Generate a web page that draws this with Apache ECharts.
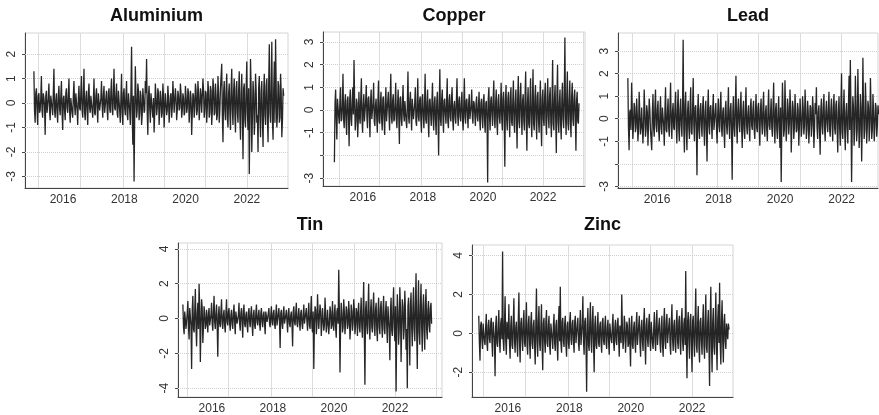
<!DOCTYPE html>
<html>
<head>
<meta charset="utf-8">
<script src="https://cdn.jsdelivr.net/npm/echarts@6/dist/echarts.min.js"></script>
<style>
  html, body { margin: 0; padding: 0; background: #fff; }
  #main { width: 879px; height: 415px; }
</style>
</head>
<body>
<div id="main"></div>
<script>
var chartDom = document.getElementById('main');
var myChart = echarts.init(chartDom);

var names = ['Aluminium', 'Copper', 'Lead', 'Tin', 'Zinc'];
var yearLabels = [2016, 2018, 2020, 2022];
var gridYears = [2015.2, 2016.55, 2017.95, 2019.3, 2020.65, 2022.0, 2023.35];
var startYear = 2015.05;
var endYear = 2023.2;

var aluminium = [
  1.3, -0.8, 0.6, -0.9, 0.4, -0.3, 1.1, -0.6, 0.2, -1.3, 0.5, -0.4, 0.8, -0.7, 0.3, -0.5, 1.4, -0.6, 0.4, -0.8,
  0.7, -0.5, 0.9, -1.1, 0.3, -0.7, 0.6, -0.4, 1.0, -0.8, 0.2, -0.6, 0.9, -0.5, 0.4, -0.9, 0.7, -0.3, 1.1, -0.6,
  1.4, -0.7, 0.5, -0.9, 0.8, -0.4, 0.3, -0.6, 1.0, -0.5, 0.6, -0.8, 0.4, -0.3, 0.9, -0.6, 0.7, -0.4, 0.5, -0.7,
  0.6, -0.4, 1.0, -0.5, 1.4, -0.3, 0.8, -0.6, 0.5, -0.8, 1.2, -0.9, 0.6, -0.5, 0.9, -0.7, 0.4, -0.9, 2.3, -1.7,
  -3.2, 1.5, -0.6, 0.8, -0.7, 0.5, -0.9, 0.6, -0.4, 0.9, 1.8, -1.3, 0.7, -0.8, 0.4, -0.6, -1.2, 0.8, -0.5, 0.6,
  -0.9, 0.5, -0.6, 0.8, -1.0, 0.4, -0.5, 0.7, -0.8, 0.3, -0.6, 0.9, -0.4, 0.6, -0.7, 0.5, -0.3, 0.8, -0.6, 0.4,
  -0.5, 0.7, -0.4, 0.6, -0.8, 0.5, -1.3, 0.4, -0.6, 0.8, -0.5, 0.9, -0.7, 0.6, -0.4, 1.0, -0.6, 0.5, -0.8, 0.9,
  -0.6, 0.7, -0.9, 1.0, -0.5, 0.8, -0.7, 1.1, -0.8, 0.6, 1.6, -1.6, 0.9, -0.7, 1.2, -1.0, 0.8, -1.1, 1.4, -0.9,
  1.0, -1.2, 0.9, -0.8, 1.3, -1.5, 1.2, -2.3, 0.8, -1.0, 1.7, -1.1, -2.9, 1.8, -2.0, 0.9, -1.3, 1.2, -0.8, -2.0,
  1.1, -1.4, 0.9, -1.8, 1.2, -0.9, 1.0, -1.6, 2.4, -0.8, 2.5, -1.5, 1.7, 2.6, -1.0, 0.9, -0.8, 1.2, -1.4, 0.6
];
var copper = [
  -2.3, 0.9, -1.3, 0.5, -0.6, 1.0, -0.4, 1.6, -0.8, 0.7, -1.1, 0.6, -1.6, 0.9, -0.7, 1.0, 2.2, -0.9, 0.5, -1.2,
  0.8, -0.6, 1.4, -1.0, 0.7, -0.5, 1.1, -0.8, 0.6, -1.2, 0.9, -0.4, 1.2, -0.7, 0.5, -1.0, 1.3, -0.6, 0.8, -0.9,
  0.6, -1.1, 1.0, -0.5, 0.8, -0.9, 1.6, -0.6, 0.7, -0.4, 1.2, -0.8, 0.9, -1.5, 0.6, -0.7, 1.1, -0.5, 0.4, -0.8,
  1.7, -0.6, 0.8, -0.9, 0.5, -0.4, 1.0, -0.7, 1.4, -0.5, 0.6, -1.0, 0.7, -0.8, 1.6, -0.6, 0.9, -1.2, 0.5, -0.7,
  1.2, -0.9, 0.6, -1.1, 0.8, -2.0, 1.8, -0.7, 0.9, -1.0, 0.5, -0.6, 1.4, -0.8, 0.7, -0.5, 1.0, -0.9, 0.4, -0.6,
  1.4, -0.7, 0.6, -0.5, 0.8, -0.9, 1.4, -0.6, 0.5, -0.8, 0.7, -0.4, 0.9, -0.6, 0.3, -0.7, 0.6, -0.5, 0.8, -0.9,
  0.5, -0.8, 0.7, -1.0, 0.4, -3.2, 1.0, -0.9, 0.6, -0.7, 1.3, -0.8, 0.9, -1.1, 0.7, -0.6, 1.2, -0.9, 0.8, -2.5,
  1.1, -0.9, 0.8, -1.2, 1.0, -0.7, 1.3, -1.0, 0.9, -1.7, 1.5, -0.8, 1.2, -1.1, 0.7, -0.9, 1.7, -1.8, 1.0, -0.8,
  1.4, -1.2, 1.8, -0.9, 1.1, -1.3, 0.8, -1.0, 1.3, -1.6, 0.9, -0.7, 1.2, -1.1, 1.4, -0.8, 1.0, -1.2, 2.2, -0.9,
  1.1, -1.9, 2.0, -1.0, 0.9, -1.3, 1.2, -0.8, 3.2, -1.1, 1.7, -0.9, 1.3, -1.2, 1.2, -0.7, 0.9, -1.8, 0.8, -0.6
];
var lead = [
  1.8, -1.4, 0.4, 1.6, -0.9, 0.7, -0.6, 0.9, -1.0, 1.2, -0.7, 0.5, -1.1, 1.3, -0.8, 0.6, -1.2, 0.9, -0.5, -1.4,
  1.1, -0.8, 1.3, -0.6, 0.8, -1.0, 1.0, -0.7, 0.5, -1.2, 1.4, -0.6, 0.9, -0.8, 1.6, -0.9, 0.7, -0.5, 1.2, -1.1,
  1.3, -1.0, 0.9, -0.8, 3.5, -1.5, 1.2, -1.4, 0.8, -0.9, 1.4, -0.7, 1.8, -1.0, 0.6, -2.5, 1.1, -0.9, 0.7, -0.8,
  1.0, -1.2, 0.8, -1.9, 1.3, -0.7, 0.6, -0.9, 1.1, -0.5, 0.7, -1.1, 0.9, -0.6, 1.2, -0.8, 0.5, -1.3, 0.8, -0.7,
  1.4, -0.9, 0.7, -2.7, 1.0, -0.8, 1.9, -1.1, 0.9, -0.6, 1.2, -1.3, 0.8, -0.9, 1.4, -0.7, 0.6, -1.0, 0.9, -0.5,
  0.8, -0.9, 1.1, -0.6, 0.7, -1.2, 0.9, -0.7, 1.2, -0.8, 0.6, -1.0, 1.3, -0.5, 0.9, -0.8, 1.6, -1.1, 0.7, -0.9,
  1.0, -1.3, -2.8, 1.6, -0.8, 1.7, -1.0, 0.9, -0.7, 1.3, -1.5, 0.8, -0.9, 1.1, -0.6, 0.7, -1.2, 0.9, -0.8, 1.0,
  -0.7, 1.3, -0.9, 0.8, -1.1, 0.6, -0.8, 1.0, -1.3, 0.7, 1.4, -0.9, 0.6, -1.6, 0.9, -0.7, 1.1, -1.0, 0.8, -0.6,
  1.2, -0.8, 0.9, -1.0, 1.1, -0.7, 0.8, -1.5, 1.0, -1.2, 2.0, -0.9, 1.3, -1.4, 0.7, -1.1, 1.9, 2.6, -2.8, 1.0,
  -1.2, 1.9, -1.0, 2.2, -1.3, 1.1, -1.9, 2.7, -0.9, 1.6, -1.1, 0.8, -1.0, 1.8, -0.9, 1.1, -1.0, 0.7, -0.8, 0.6
];
var tin = [
  0.8, -0.9, 0.5, -0.7, 1.0, -1.2, 0.6, -2.9, 1.3, -0.8, 1.7, -1.6, 0.9, 2.0, -2.5, 1.1, -1.4, 0.7, -0.6, 0.5,
  -0.8, 0.6, -0.5, 0.9, -0.7, 1.3, -0.6, 0.8, -2.2, 0.7, -0.5, 1.1, -0.6, 0.5, -0.8, 1.1, -0.4, 0.6, -0.7, 0.5,
  -0.6, 0.8, -0.9, 0.5, -0.4, 0.9, -0.7, 0.6, -1.1, 0.8, -0.5, 0.4, -0.8, 0.6, -0.5, 0.7, -1.0, 0.5, -0.6, 0.8,
  -0.4, 0.5, -0.7, 0.6, -0.5, 0.4, -0.9, 0.5, -0.3, 0.6, -0.5, 0.7, -0.4, 0.5, -0.6, 0.8, -0.5, 0.6, -1.7, 0.5,
  -0.6, 0.7, -0.4, 0.5, -0.8, 0.6, -0.5, 0.4, -1.6, 0.7, -0.4, 0.9, -0.5, 0.6, -0.7, 0.5, -0.6, 0.8, -0.4, 0.6,
  -0.7, 0.9, -0.6, 1.3, -0.8, -2.9, 0.7, -0.9, 1.4, -0.6, 0.8, -1.0, 0.6, -0.7, 1.2, -0.8, 0.5, -0.9, 0.7, -0.6,
  1.0, -0.7, 0.8, -1.1, 0.6, 2.8, -3.1, 0.9, -0.8, 1.1, -0.9, 0.7, -0.6, 1.0, -1.2, 0.8, -0.7, 1.1, -0.9, 0.6,
  -1.0, 0.9, -0.8, 1.2, -1.1, 2.1, -3.8, 1.0, -0.9, 2.0, -1.2, 1.1, -0.8, 1.5, -1.0, 0.9, -1.3, 1.2, -0.9, 1.0,
  -1.1, 1.3, -0.9, 1.0, -1.4, 0.8, -2.4, 1.2, -1.0, 1.8, -1.3, -4.2, 1.4, -1.5, 1.8, -2.5, 1.1, -1.2, 1.6, -1.8,
  -4.0, 1.2, -2.7, 1.5, -1.6, 1.8, -1.3, 2.6, -2.9, 2.2, -1.5, 2.0, -1.9, 1.4, -1.8, 1.7, -1.2, 1.0, -0.8, 0.9
];
var zinc = [
  0.9, -1.4, 0.6, -0.8, 0.4, -0.6, 1.0, -0.9, 0.7, -0.5, 0.8, -1.2, 0.6, -2.2, 0.9, -0.7, 1.2, -1.0, 0.8, 4.2,
  -0.9, 1.9, -1.1, 0.7, 1.5, -1.3, 0.9, -0.8, 1.8, -1.0, 0.6, -1.2, 2.1, -1.5, 0.8, -0.9, 1.2, -0.7, 1.6, -1.1,
  0.9, -1.3, 1.1, -0.8, 0.7, -1.6, 2.3, -1.2, 1.4, -0.9, 1.5, -1.9, 0.8, -1.0, 1.2, -0.7, 0.9, -1.1, 0.6, -0.8,
  1.0, -0.9, 0.7, -1.4, 1.4, 2.4, -1.0, 0.8, -0.7, 0.9, -1.2, 0.6, -0.8, 1.1, -0.6, 0.7, -1.0, 0.9, -0.5, 0.8,
  -0.9, 1.2, -0.7, 1.9, -1.1, 0.8, -3.0, 1.3, -0.9, 1.6, -1.0, 1.4, -2.0, 0.9, -0.8, 1.1, -0.7, 0.6, -1.0, 0.8,
  -0.6, 0.9, -0.8, 0.7, -1.1, 0.6, -0.5, 1.0, -0.9, 0.7, -0.6, 0.8, -1.2, 0.5, 2.0, -0.8, 0.9, -1.0, 0.6, -0.7,
  0.8, -1.7, 0.9, -0.8, 0.6, -1.0, 1.1, -0.7, 0.9, -1.2, 0.7, -0.9, 1.3, -1.6, 0.8, -0.7, 1.0, -0.9, 0.6, -0.8,
  1.1, -0.9, 1.2, -0.7, 0.8, -1.0, 0.9, -1.2, 1.3, -0.8, 1.0, -0.6, 0.8, -1.1, 1.5, -0.9, 0.7, -1.0, 1.2, -0.8,
  0.9, -1.1, 1.3, -0.9, 0.8, 3.2, -2.3, 1.1, -1.3, 1.0, -2.0, 0.9, -1.2, 2.3, -1.0, 1.4, -1.5, 0.8, -1.1, 1.5,
  -1.3, 2.0, -1.0, 1.2, -2.7, 2.4, -2.0, 1.3, -1.1, 2.1, -1.9, 1.5, 2.6, -1.6, 1.7, -1.5, 1.0, -0.8, 0.6, 0.5
];
// ... and the smaller moves of the dense core, one between each pair above
var aluminiumCore = [
  -0.3, 0.4, -0.2, 0.3, -0.4, 0.2, -0.3, 0.4, -0.1, 0.3, -0.4, 0.2, -0.3, 0.3, -0.2, 0.4, -0.3, 0.1, -0.4, 0.3,
  -0.2, 0.3, -0.4, 0.2, -0.3, 0.4, -0.2, 0.3, -0.3, 0.2, -0.4, 0.3, -0.1, 0.4, -0.3, 0.2, -0.2, 0.4, -0.3, 0.3,
  -0.4, 0.2, -0.3, 0.4, -0.2, 0.3, -0.3, 0.1, -0.4, 0.3, -0.2, 0.4, -0.3, 0.2, -0.1, 0.3, -0.4, 0.2, -0.3, 0.4,
  -0.2, 0.5, -0.3, 0.4, -0.2, 0.3, -0.4, 0.5, -0.3, 0.2, -0.4, 0.4, -0.2, 0.3, -0.5, 0.4, -0.3, 0.5, -0.4, 0.3,
  -0.5, 0.4, -0.3, 0.5, -0.4, 0.3, -0.5, 0.2, -0.3, 0.4, -0.4, 0.3, -0.2, 0.4, -0.3, 0.2, -0.4, 0.3, -0.2, 0.4,
  -0.3, 0.2, -0.4, 0.3, -0.2, 0.4, -0.3, 0.2, -0.3, 0.4, -0.2, 0.3, -0.4, 0.2, -0.3, 0.3, -0.2, 0.4, -0.3, 0.2,
  -0.4, 0.3, -0.2, 0.4, -0.3, 0.2, -0.4, 0.3, -0.2, 0.5, -0.3, 0.4, -0.2, 0.3, -0.4, 0.5, -0.3, 0.4, -0.2, 0.5,
  -0.4, 0.5, -0.3, 0.6, -0.4, 0.3, -0.5, 0.4, -0.3, 0.6, -0.5, 0.4, -0.3, 0.5, -0.6, 0.4, -0.4, 0.6, -0.3, 0.5,
  -0.5, 0.6, -0.4, 0.5, -0.6, 0.4, -0.5, 0.6, -0.7, 0.5, -0.4, 0.6, -0.8, 0.5, -0.6, 0.4, -0.7, 0.5, -0.5, 0.6,
  -0.6, 0.5, -0.7, 0.4, -0.5, 0.7, -0.6, 0.8, -0.4, 0.6, -0.7, 0.5, -0.8, 0.6, -0.5, 0.7, -0.6, 0.4, -0.7, 0.3
];
var copperCore = [
  0.3, -0.4, 0.5, -0.3, 0.4, -0.5, 0.2, -0.4, 0.3, -0.5, 0.4, -0.3, 0.5, -0.4, 0.3, -0.2, 0.4, -0.5, 0.3, -0.4,
  -0.3, 0.5, -0.4, 0.2, -0.5, 0.4, -0.3, 0.5, -0.2, 0.4, -0.4, 0.3, -0.5, 0.2, -0.3, 0.4, -0.5, 0.3, -0.4, 0.5,
  -0.4, 0.3, -0.5, 0.4, -0.2, 0.5, -0.3, 0.4, -0.5, 0.3, -0.4, 0.2, -0.3, 0.5, -0.4, 0.3, -0.2, 0.4, -0.5, 0.3,
  -0.3, 0.4, -0.2, 0.5, -0.4, 0.3, -0.5, 0.2, -0.3, 0.4, -0.4, 0.5, -0.3, 0.2, -0.4, 0.3, -0.5, 0.4, -0.2, 0.3,
  -0.4, 0.3, -0.5, 0.4, -0.3, 0.2, -0.4, 0.5, -0.3, 0.4, -0.2, 0.3, -0.5, 0.4, -0.3, 0.5, -0.4, 0.2, -0.3, 0.4,
  -0.2, 0.4, -0.3, 0.3, -0.4, 0.2, -0.3, 0.4, -0.2, 0.3, -0.4, 0.2, -0.3, 0.4, -0.2, 0.3, -0.3, 0.2, -0.4, 0.3,
  -0.3, 0.4, -0.5, 0.3, -0.4, 0.5, -0.3, 0.4, -0.2, 0.5, -0.4, 0.3, -0.5, 0.4, -0.3, 0.2, -0.4, 0.5, -0.3, 0.4,
  -0.4, 0.5, -0.3, 0.6, -0.5, 0.4, -0.6, 0.3, -0.4, 0.5, -0.5, 0.6, -0.3, 0.4, -0.5, 0.6, -0.4, 0.3, -0.6, 0.5,
  -0.5, 0.4, -0.6, 0.5, -0.4, 0.6, -0.5, 0.3, -0.6, 0.5, -0.4, 0.6, -0.5, 0.4, -0.3, 0.6, -0.5, 0.4, -0.6, 0.5,
  -0.4, 0.6, -0.5, 0.3, -0.6, 0.5, -0.4, 0.6, -0.3, 0.5, -0.6, 0.4, -0.5, 0.6, -0.4, 0.5, -0.3, 0.4, -0.5, 0.3
];
var leadCore = [
  -0.4, 0.3, -0.5, 0.4, -0.3, 0.5, -0.4, 0.2, -0.5, 0.3, -0.4, 0.5, -0.3, 0.4, -0.5, 0.3, -0.2, 0.4, -0.5, 0.3,
  -0.4, 0.5, -0.3, 0.4, -0.5, 0.2, -0.4, 0.5, -0.3, 0.4, -0.5, 0.3, -0.4, 0.5, -0.2, 0.3, -0.4, 0.5, -0.3, 0.4,
  -0.5, 0.4, -0.3, 0.5, -0.4, 0.6, -0.5, 0.3, -0.4, 0.5, -0.6, 0.4, -0.3, 0.5, -0.4, 0.3, -0.5, 0.4, -0.3, 0.5,
  -0.4, 0.3, -0.5, 0.4, -0.3, 0.5, -0.2, 0.4, -0.5, 0.3, -0.4, 0.2, -0.3, 0.5, -0.4, 0.3, -0.5, 0.4, -0.3, 0.2,
  -0.3, 0.4, -0.5, 0.3, -0.4, 0.5, -0.3, 0.4, -0.2, 0.5, -0.4, 0.3, -0.5, 0.4, -0.3, 0.2, -0.4, 0.5, -0.3, 0.4,
  -0.5, 0.3, -0.4, 0.5, -0.3, 0.4, -0.2, 0.5, -0.4, 0.3, -0.5, 0.4, -0.3, 0.2, -0.4, 0.5, -0.3, 0.4, -0.5, 0.3,
  -0.4, 0.5, -0.3, 0.4, -0.5, 0.3, -0.4, 0.5, -0.2, 0.4, -0.3, 0.5, -0.4, 0.3, -0.5, 0.4, -0.3, 0.2, -0.4, 0.5,
  -0.3, 0.4, -0.5, 0.3, -0.4, 0.5, -0.3, 0.4, -0.5, 0.2, -0.4, 0.3, -0.5, 0.4, -0.3, 0.5, -0.4, 0.3, -0.2, 0.4,
  -0.5, 0.4, -0.3, 0.5, -0.4, 0.6, -0.5, 0.3, -0.4, 0.5, -0.6, 0.4, -0.5, 0.3, -0.4, 0.6, -0.5, 0.4, -0.3, 0.5,
  -0.4, 0.6, -0.5, 0.4, -0.6, 0.5, -0.3, 0.4, -0.5, 0.6, -0.4, 0.5, -0.3, 0.4, -0.5, 0.3, -0.4, 0.5, -0.3, 0.2
];
var tinCore = [
  -0.5, 0.4, -0.6, 0.3, -0.5, 0.6, -0.4, 0.5, -0.6, 0.4, -0.5, 0.3, -0.6, 0.5, -0.4, 0.6, -0.5, 0.3, -0.4, 0.5,
  0.3, -0.4, 0.2, -0.3, 0.4, -0.2, 0.3, -0.4, 0.2, -0.3, 0.4, -0.3, 0.2, -0.4, 0.3, -0.2, 0.4, -0.3, 0.2, -0.3,
  0.3, -0.2, 0.4, -0.3, 0.2, -0.3, 0.3, -0.2, 0.4, -0.3, 0.2, -0.4, 0.3, -0.2, 0.3, -0.3, 0.2, -0.4, 0.3, -0.2,
  0.2, -0.3, 0.3, -0.2, 0.2, -0.3, 0.4, -0.2, 0.3, -0.3, 0.2, -0.2, 0.3, -0.3, 0.2, -0.4, 0.3, -0.2, 0.3, -0.3,
  0.3, -0.3, 0.2, -0.2, 0.3, -0.3, 0.2, -0.3, 0.4, -0.2, 0.3, -0.3, 0.2, -0.2, 0.3, -0.3, 0.2, -0.3, 0.3, -0.2,
  0.3, -0.4, 0.3, -0.5, 0.4, -0.3, 0.5, -0.4, 0.3, -0.5, 0.4, -0.3, 0.5, -0.4, 0.3, -0.4, 0.5, -0.3, 0.4, -0.3,
  -0.4, 0.3, -0.5, 0.4, -0.3, 0.5, -0.4, 0.3, -0.5, 0.4, -0.3, 0.5, -0.4, 0.3, -0.5, 0.4, -0.3, 0.5, -0.4, 0.3,
  0.4, -0.5, 0.3, -0.5, 0.4, -0.6, 0.5, -0.4, 0.6, -0.5, 0.4, -0.5, 0.6, -0.4, 0.5, -0.6, 0.4, -0.5, 0.6, -0.4,
  0.5, -0.6, 0.4, -0.5, 0.7, -0.6, 0.5, -0.7, 0.6, -0.5, 0.7, -0.6, 0.4, -0.7, 0.6, -0.5, 0.7, -0.6, 0.5, -0.6,
  0.7, -0.6, 0.8, -0.5, 0.7, -0.6, 0.8, -0.7, 0.6, -0.8, 0.7, -0.5, 0.6, -0.7, 0.8, -0.6, 0.5, -0.4, 0.6, -0.3
];
var zincCore = [
  -0.5, 0.4, -0.3, 0.5, -0.4, 0.3, -0.5, 0.4, -0.3, 0.5, -0.4, 0.6, -0.3, 0.4, -0.5, 0.3, -0.4, 0.5, -0.3, -0.4,
  0.5, -0.4, 0.6, -0.3, -0.5, 0.4, -0.6, 0.5, -0.4, 0.3, -0.5, 0.6, -0.4, 0.5, -0.3, 0.6, -0.5, 0.4, -0.6, 0.5,
  -0.4, 0.6, -0.5, 0.4, -0.6, 0.5, -0.4, 0.6, -0.5, 0.3, -0.6, 0.5, -0.4, 0.6, -0.5, 0.4, -0.6, 0.5, -0.3, 0.4,
  -0.5, 0.4, -0.6, 0.5, -0.4, -0.5, 0.6, -0.4, 0.5, -0.6, 0.4, -0.5, 0.6, -0.3, 0.5, -0.4, 0.6, -0.5, 0.4, -0.5,
  0.4, -0.6, 0.5, -0.4, 0.6, -0.5, 0.4, -0.6, 0.5, -0.4, 0.6, -0.5, 0.4, -0.6, 0.3, -0.5, 0.4, -0.5, 0.6, -0.4,
  0.4, -0.5, 0.3, -0.4, 0.5, -0.3, 0.4, -0.5, 0.3, -0.4, 0.5, -0.3, 0.4, -0.5, 0.3, -0.4, 0.5, -0.3, 0.4, -0.5,
  -0.5, 0.4, -0.6, 0.3, -0.4, 0.5, -0.6, 0.4, -0.5, 0.3, -0.4, 0.6, -0.5, 0.4, -0.3, 0.5, -0.4, 0.6, -0.5, 0.3,
  -0.4, 0.5, -0.6, 0.4, -0.5, 0.3, -0.6, 0.5, -0.4, 0.6, -0.5, 0.4, -0.6, 0.5, -0.3, 0.4, -0.6, 0.5, -0.4, 0.6,
  -0.5, 0.6, -0.4, 0.5, -0.6, -0.5, 0.6, -0.4, 0.7, -0.5, 0.6, -0.4, 0.7, -0.6, 0.5, -0.7, 0.6, -0.4, 0.5, -0.6,
  0.6, -0.7, 0.5, -0.6, 0.7, -0.5, 0.6, -0.7, 0.5, -0.6, 0.7, -0.5, -0.6, 0.7, -0.5, 0.6, -0.4, 0.5, -0.3, 0.2
];
var swings = [aluminium, copper, lead, tin, zinc];
var cores = [aluminiumCore, copperCore, leadCore, tinCore, zincCore];

var yTicks = [
  [-3, -2, -1, 0, 1, 2],
  [-3, -2, -1, 0, 1, 2, 3],
  [-3, -2, -1, 0, 1, 2, 3],
  [-4, -2, 0, 2, 4],
  [-2, 0, 2, 4]
];
var yLabels = [
  [-3, -2, -1, 0, 1, 2],
  [-3, -1, 0, 1, 2, 3],
  [-3, -1, 0, 1, 2, 3],
  [-4, -2, 0, 2, 4],
  [-2, 0, 2, 4]
];

// plot boxes [left, top, right, bottom] and axis extents
var panels = [
  { box: [25, 33, 288, 188], x: [2014.76, 2023.34], y: [-3.47, 2.86], titleY: 7 },
  { box: [323, 32, 585, 186], x: [2014.67, 2023.4], y: [-3.35, 3.44], titleY: 7 },
  { box: [618, 33, 878, 188], x: [2014.73, 2023.18], y: [-3.07, 3.8], titleY: 7 },
  { box: [178, 243, 442, 398], x: [2014.89, 2023.54], y: [-4.51, 4.34], titleY: 216 },
  { box: [472, 245, 733, 398], x: [2014.83, 2023.33], y: [-3.27, 4.54], titleY: 216 }
];

var font = 'Liberation Sans, Arial, sans-serif';
var grids = [], xAxes = [], yAxes = [], series = [], texts = [];

panels.forEach(function (p, i) {
  var b = p.box;
  grids.push({
    left: b[0], top: b[1], width: b[2] - b[0], height: b[3] - b[1],
    show: true, borderColor: '#d4d4d4', borderWidth: 1, backgroundColor: 'transparent'
  });
  xAxes.push({
    gridIndex: i, type: 'value', min: p.x[0], max: p.x[1],
    axisLine: { onZero: false, lineStyle: { color: '#444', width: 1 } },
    axisTick: { show: false, customValues: yearLabels },
    axisLabel: {
      customValues: yearLabels, color: '#333', fontSize: 12, fontFamily: font, margin: 6,
      formatter: function (v) { return String(v); }
    },
    splitLine: { show: false }
  });
  yAxes.push({
    gridIndex: i, type: 'value', min: p.y[0], max: p.y[1],
    axisLine: { show: true, onZero: false, lineStyle: { color: '#444', width: 1 } },
    axisTick: { show: true, length: 3, customValues: yTicks[i], lineStyle: { color: '#444' } },
    axisLabel: {
      customValues: yLabels[i], rotate: 90, color: '#333', fontSize: 12, fontFamily: font, margin: 7
    },
    splitLine: { show: false }
  });
  var vals = [];
  swings[i].forEach(function (v, k) { vals.push(v, cores[i][k]); });
  var n = vals.length;
  var pts = vals.map(function (v, k) {
    return [startYear + k * (endYear - startYear) / (n - 1), v];
  });
  // background grid lines
  series.push({
    type: 'line', xAxisIndex: i, yAxisIndex: i, data: [], silent: true, z: 1,
    markLine: {
      z: 1, silent: true, symbol: 'none', animation: false, label: { show: false },
      lineStyle: { color: '#dcdcdc', type: 'solid', width: 1 },
      data: gridYears.filter(function (g) { return g > p.x[0] && g < p.x[1]; })
        .map(function (g) { return { xAxis: g }; })
        .concat(yTicks[i].map(function (t) { return { yAxis: t, lineStyle: { type: 'dotted', color: '#cfcfcf' } }; }))
    }
  });
  series.push({
    name: names[i], type: 'line', xAxisIndex: i, yAxisIndex: i, data: pts, z: 10,
    showSymbol: false, symbol: 'none', animation: false,
    lineStyle: { color: '#000', width: 1.3, opacity: 0.85 }
  });
  texts.push({
    type: 'text', x: (b[0] + b[2]) / 2, y: p.titleY,
    style: { text: names[i], fill: '#111', font: 'bold 18px ' + font, textAlign: 'center', textVerticalAlign: 'top' }
  });
});

var option = {
  backgroundColor: '#fff',
  animation: false,
  grid: grids,
  xAxis: xAxes,
  yAxis: yAxes,
  series: series,
  graphic: texts
};

option && myChart.setOption(option);
</script>
</body>
</html>
